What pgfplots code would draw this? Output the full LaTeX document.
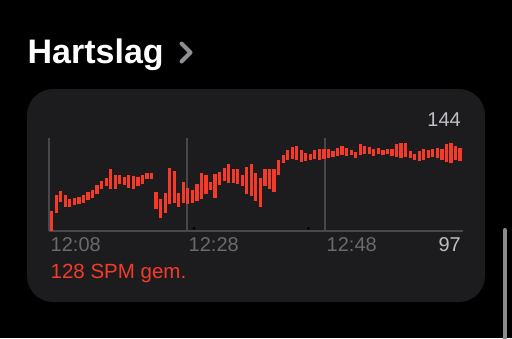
\documentclass[border=0pt]{standalone}
\usepackage{pgfplots}
\pgfplotsset{compat=1.18}
\usepackage{pgfplotstable}
\usepackage{fontspec}
\setmainfont{Liberation Sans}
\definecolor{bgblack}{RGB}{0,0,0}
\definecolor{card}{RGB}{28,28,30}
\definecolor{gridgray}{RGB}{72,72,76}
\definecolor{ticktext}{RGB}{105,105,110}
\definecolor{valtext}{RGB}{190,190,195}
\definecolor{hrred}{RGB}{245,58,42}
\definecolor{chev}{RGB}{142,142,147}
\definecolor{scroll}{RGB}{140,140,140}

\pgfplotstableread{
i lo hi
0 97.0 107.6
1 106.4 116.0
2 112.4 118.3
3 109.9 116.0
4 109.9 113.9
5 110.7 114.7
6 111.2 115.2
7 112.1 116.0
8 113.5 117.7
9 114.6 118.8
10 116.5 121.3
11 119.2 123.6
12 120.9 125.4
13 119.5 129.8
14 119.5 126.6
15 121.8 126.6
16 121.3 125.9
17 120.0 126.6
18 119.5 126.3
19 120.9 125.9
20 121.8 126.6
21 124.5 127.7
22 124.5 127.7
23 108.5 117.7
24 104.1 114.2
25 106.4 117.1
26 111.2 130.7
27 112.1 128.9
28 109.9 117.1
29 112.1 123.1
30 111.2 120.0
31 112.1 118.8
32 113.0 121.8
33 114.2 127.7
34 116.5 126.6
35 118.8 123.1
36 114.7 127.2
37 121.3 128.4
38 123.6 130.7
39 122.4 132.5
40 122.7 129.8
41 121.8 129.8
42 120.9 126.6
43 116.5 131.2
44 115.6 132.5
45 113.0 128.0
46 109.9 125.4
47 120.9 129.8
48 119.2 129.8
49 117.7 129.8
50 126.6 134.8
51 133.3 137.3
52 134.8 140.1
53 135.5 141.8
54 134.8 142.2
55 133.7 140.1
56 134.2 138.7
57 134.8 137.8
58 135.1 140.1
59 134.8 140.5
60 135.1 140.8
61 136.0 140.5
62 136.5 139.6
63 136.9 141.3
64 137.3 142.2
65 136.9 141.3
66 137.3 140.1
67 136.0 139.0
68 137.3 143.1
69 137.8 142.2
70 137.8 141.8
71 136.9 140.8
72 137.8 141.3
73 137.3 140.1
74 137.8 140.8
75 136.9 140.8
76 136.5 143.1
77 136.0 144.0
78 136.5 143.7
79 136.0 139.6
80 134.8 137.8
81 134.2 139.6
82 134.8 140.5
83 136.0 140.1
84 136.5 140.5
85 136.0 141.3
86 134.8 140.5
87 133.7 143.1
88 133.0 143.7
89 134.8 142.2
90 134.2 141.3
}\hrdata

\pgfplotstableread{
i y
31.36 98.4
56.56 98.4
}\dotdata

\begin{document}
\begin{tikzpicture}
\begin{scope}[x=1pt,y=-1pt]
  \fill[bgblack] (0,0) rectangle (512,338);
  \useasboundingbox (0,0) rectangle (512,338);
  \fill[card, rounded corners=26pt] (27,89) rectangle (485,302);
  \node[anchor=base west, inner sep=0pt, text=white, font=\bfseries\fontsize{34}{38}\selectfont] at (27.5,63.3) {Hartslag};
  \draw[chev, line width=4pt, line cap=round, line join=round] (181.5,43.5) -- (190.5,52.5) -- (181.5,61.5);
  \node[anchor=base east, inner sep=0pt, text=valtext, font=\fontsize{20}{24}\selectfont] at (461,126.7) {144};
  \node[anchor=base east, inner sep=0pt, text=valtext, font=\fontsize{20}{24}\selectfont] at (461,251.5) {97};
  \node[anchor=base west, inner sep=0pt, text=hrred, font=\fontsize{20.5}{24}\selectfont] at (50.5,278) {128 SPM gem.};
  \draw[scroll, line width=4pt, line cap=round] (504.7,230) -- (504.7,345);
\end{scope}
\begin{axis}[
  at={(49pt,-231pt)}, anchor=south west,
  width=414pt, height=93pt, scale only axis,
  xmin=-0.6, xmax=90.65, ymin=97, ymax=146.5,
  axis x line=bottom, axis y line=none,
  axis line style={-, draw=gridgray, line width=1.2pt},
  xtick={-0.6,29.82,60.24},
  xticklabels={12:08,12:28,12:48},
  major tick length=0pt,
  xmajorgrids, grid style={draw=gridgray, line width=1.2pt},
  ytick=\empty,
  xticklabel style={anchor=base west, inner sep=0pt, text=ticktext, font=\fontsize{20}{24}\selectfont, yshift=-20.5pt, xshift=1.5pt},
  clip=false,
]
\addplot[draw=none, mark=none, forget plot,
  error bars/.cd, y dir=plus, y explicit, error mark=none,
  error bar style={draw=hrred, line width=3.2pt, line cap=butt}]
  table[x=i, y=lo, y error plus expr=\thisrow{hi}-\thisrow{lo}] {\hrdata};
\addplot[only marks, mark=*, mark size=1.1pt, draw=black, fill=black, forget plot] table[x=i, y=y] {\dotdata};
\end{axis}
\end{tikzpicture}
\end{document}
